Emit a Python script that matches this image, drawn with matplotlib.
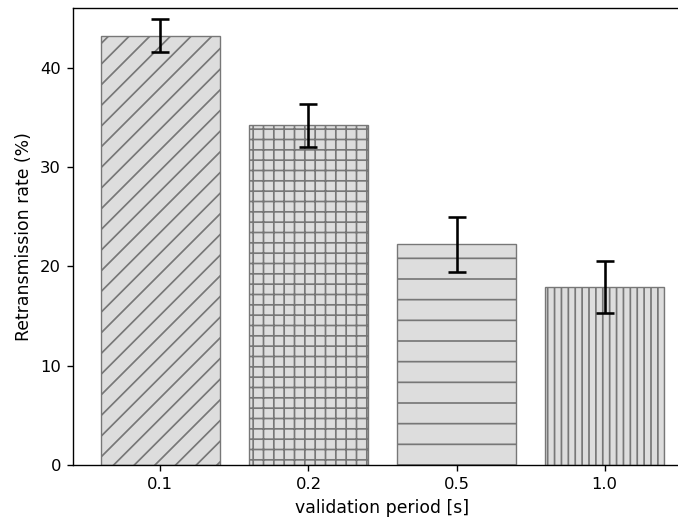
import numpy as np
import matplotlib
matplotlib.use("Agg")
import matplotlib.pyplot as plt

periods = ["0.1", "0.2", "0.5", "1.0"]
retrans_rate = [43.2, 34.2, 22.2, 17.9]
retrans_err = [1.65, 2.15, 2.75, 2.65]
hatches = ["//", "++", "-", "|||"]

DPI = 124
plt.rcParams["font.size"] = 9.5

fig = plt.figure(figsize=(678 / DPI, 525 / DPI), dpi=DPI)
ax = fig.add_axes([73 / 678, 60 / 525, 619 / 678, 457 / 525])

x = np.arange(len(periods))
bars = ax.bar(x, retrans_rate, width=0.8, color="#dddddd", edgecolor="#777777",
              linewidth=0.8)
for b, h in zip(bars, hatches):
    b.set_hatch(h)

ax.errorbar(x, retrans_rate, yerr=retrans_err, fmt="none", ecolor="black",
            elinewidth=1.5, capsize=5, capthick=1.5)

ax.set_xticks(x)
ax.set_xticklabels(periods)
ax.set_xlim(-0.59, 3.59)
ax.set_ylim(0, 46)
ax.set_xlabel("validation period [s]", fontsize=10)
ax.set_ylabel("Retransmission rate (%)", fontsize=10)

fig.savefig("out.png", dpi=DPI)
